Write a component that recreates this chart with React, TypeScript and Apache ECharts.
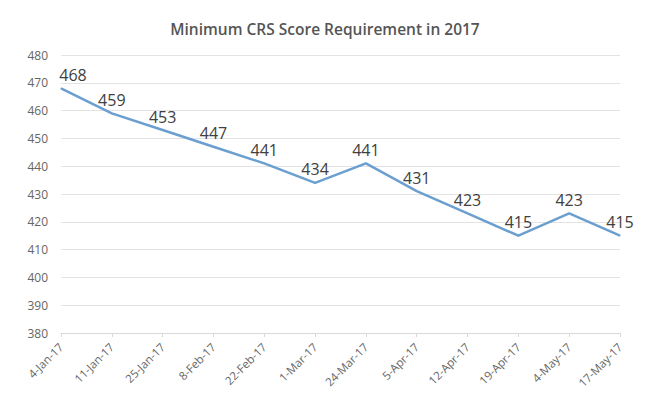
import React, { useEffect, useRef } from "react";
import * as echarts from "echarts";

const categories = ["4-Jan-17", "11-Jan-17", "25-Jan-17", "8-Feb-17", "22-Feb-17", "1-Mar-17", "24-Mar-17", "5-Apr-17", "12-Apr-17", "19-Apr-17", "4-May-17", "17-May-17"];
const scores = [468, 459, 453, 447, 441, 434, 441, 431, 423, 415, 423, 415];
const titleText = "Minimum CRS Score Requirement in 2017";

export default function App() {
  const ref = useRef<HTMLDivElement>(null);
  useEffect(() => {
    const chart = echarts.init(ref.current!, null, { renderer: "svg" });
    chart.setOption({
      animation: false,
      backgroundColor: "#ffffff",
      textStyle: { fontFamily: "Open Sans, Liberation Sans, sans-serif" },
      title: {
        text: titleText,
        left: "center",
        top: 8,
        textStyle: { fontSize: 15.5, fontWeight: 600, color: "#555555", fontFamily: "Open Sans, sans-serif" },
      },
      grid: { left: 53, right: 22, top: 47, bottom: 63 },
      xAxis: {
        type: "category",
        data: categories,
        boundaryGap: false,
        axisLine: { lineStyle: { color: "#d9d9d9" } },
        axisTick: { show: true, alignWithLabel: true, lineStyle: { color: "#d9d9d9" }, length: 4 },
        axisLabel: { rotate: 45, color: "#666666", fontSize: 11.5, margin: 12, interval: 0 },
      },
      yAxis: {
        type: "value",
        min: 380,
        max: 480,
        interval: 10,
        axisLine: { show: false },
        axisTick: { show: false },
        axisLabel: { color: "#666666", fontSize: 12, margin: 13 },
        splitLine: { lineStyle: { color: "#e3e3e3" } },
      },
      series: [
        {
          type: "line",
          data: scores.map((v, i) => (i === 0 ? { value: v, label: { offset: [12, 0] } } : v)),
          showSymbol: true,
          symbol: "circle",
          symbolSize: 1,
          itemStyle: { color: "#6a9fcf" },
          lineStyle: { color: "#6a9fcf", width: 2.5 },
          label: {
            show: true,
            position: "top",
            distance: 5,
            color: "#404040",
            fontSize: 16,
          },
        },
      ],
    });
    return () => chart.dispose();
  }, []);
  return <div ref={ref} style={{ width: 634, height: 388 }} />;
}
